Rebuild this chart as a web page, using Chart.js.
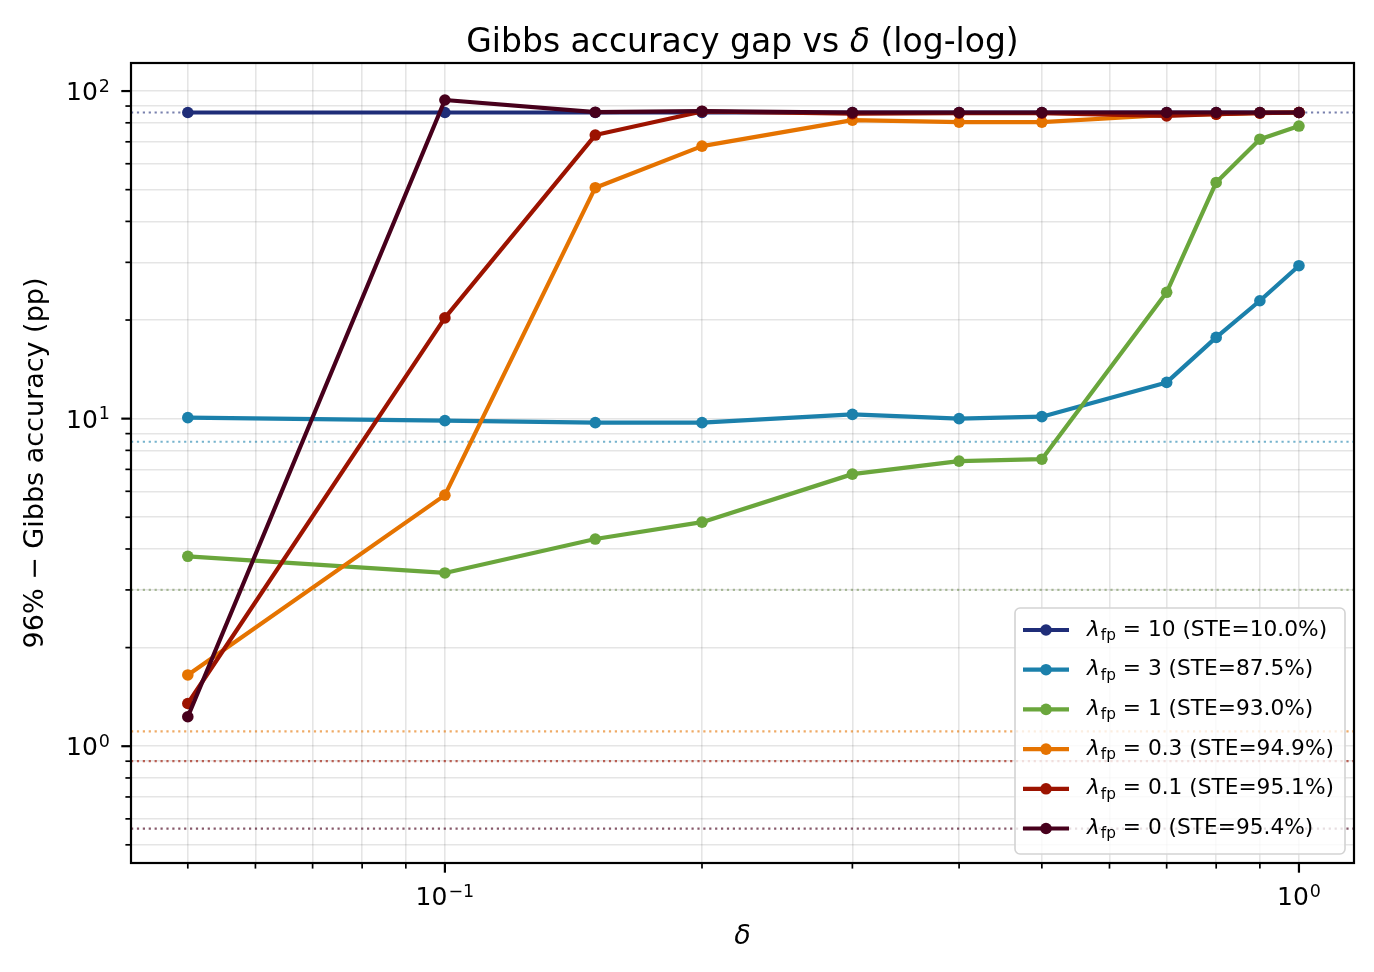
<!DOCTYPE html>
<html>
<head>
<meta charset="utf-8">
<script src="https://cdn.jsdelivr.net/npm/chart.js@4.4.1/dist/chart.umd.min.js"></script>
<style>
  html, body { margin: 0; padding: 0; background: #fff; }
  #wrap { width: 1374px; height: 972px; position: relative; }
</style>
</head>
<body>
<div id="wrap"><canvas id="chart"></canvas></div>
<script>
// delta values on the x axis
const deltas = [0.05, 0.1, 0.15, 0.2, 0.3, 0.4, 0.5, 0.7, 0.8, 0.9, 1.0];

// 96% - Gibbs accuracy (pp), one array per lambda_fp
const gapLam10 = [86.0, 86.0, 86.0, 86.0, 86.0, 86.0, 86.0, 86.0, 86.0, 86.0, 86.0];
const gapLam3 = [10.07, 9.86, 9.72, 9.72, 10.3, 10.0, 10.14, 12.9, 17.7, 22.9, 29.3];
const gapLam1 = [3.80, 3.38, 4.29, 4.83, 6.77, 7.42, 7.52, 24.3, 52.6, 71.3, 78.2];
const gapLam03 = [1.65, 5.84, 50.7, 67.9, 81.5, 80.4, 80.4, 84.5, 85.0, 85.8, 86.0];
const gapLam01 = [1.35, 20.3, 73.4, 86.6, 85.3, 85.6, 85.6, 84.0, 85.0, 85.6, 86.0];
const gapLam0 = [1.23, 93.9, 86.2, 86.8, 86.0, 86.0, 86.0, 86.0, 86.0, 86.0, 86.0];

const lambdaLabels = ['10', '3', '1', '0.3', '0.1', '0'];
const steLabels = ['10.0%', '87.5%', '93.0%', '94.9%', '95.1%', '95.4%'];
const steGaps = [86, 8.5, 3.0, 1.11, 0.90, 0.56];   // dotted reference lines
const colors = ['#1f2d78', '#1b80ab', '#6aa63c', '#e57300', '#9c1300', '#47001c'];
const refColors = ['rgba(31,45,120,0.6)', 'rgba(27,128,171,0.6)', 'rgba(110,140,80,0.55)',
  'rgba(229,115,0,0.6)', 'rgba(156,19,0,0.65)', 'rgba(71,0,28,0.65)'];
const seriesData = [gapLam10, gapLam3, gapLam1, gapLam03, gapLam01, gapLam0];

// ticks (labels are 10 with these exponents)
const xTicks = [0.05, 0.06, 0.07, 0.08, 0.09, 0.1, 0.2, 0.3, 0.4, 0.5, 0.6, 0.7, 0.8, 0.9, 1];
const xMajorTicks = [0.1, 1];
const xTickExps = ['\u22121', '0'];
const yTicks = [0.5, 0.6, 0.7, 0.8, 0.9, 1, 2, 3, 4, 5, 6, 7, 8, 9,
  10, 20, 30, 40, 50, 60, 70, 80, 90, 100];
const yMajorTicks = [1, 10, 100];
const yTickExps = ['0', '1', '2'];

const FONT = 'DejaVu Sans';
Chart.defaults.font.family = FONT;
Chart.defaults.color = '#000';

function majorIndex(value, majors) {
  return majors.findIndex(t => Math.abs(t - value) < 1e-9);
}

// draws "10" with a raised exponent; anchor 'center' or 'right'
function drawPow(ctx, exp, x, baseline, anchor) {
  ctx.font = `25px "${FONT}"`;
  const wb = ctx.measureText('10').width;
  ctx.font = `17.5px "${FONT}"`;
  const we = ctx.measureText(exp).width;
  const total = wb + 1 + we;
  const x0 = anchor === 'center' ? x - total / 2 : x - total;
  ctx.font = `25px "${FONT}"`;
  ctx.fillText('10', x0, baseline);
  ctx.font = `17.5px "${FONT}"`;
  ctx.fillText(exp, x0 + wb + 1, baseline - 8.5);
}

const decor = {
  id: 'decor',
  beforeDatasetsDraw(chart) {
    const { ctx, chartArea: a, scales: { y } } = chart;
    ctx.save();
    ctx.beginPath();
    ctx.rect(a.left, a.top, a.right - a.left, a.bottom - a.top);
    ctx.clip();
    ctx.lineWidth = 2.2;
    ctx.setLineDash([2.2, 3.7]);
    steGaps.forEach((g, i) => {
      const py = y.getPixelForValue(g);
      ctx.strokeStyle = refColors[i];
      ctx.beginPath();
      ctx.moveTo(a.left, py);
      ctx.lineTo(a.right, py);
      ctx.stroke();
    });
    ctx.restore();
  },
  afterDatasetsDraw(chart) {
    const { ctx, chartArea: a, scales: { x, y } } = chart;
    ctx.save();
    // frame
    ctx.strokeStyle = '#000';
    ctx.lineWidth = 2.2;
    ctx.strokeRect(a.left, a.top, a.right - a.left, a.bottom - a.top);
    // tick marks + labels
    ctx.fillStyle = '#000';
    ctx.textBaseline = 'alphabetic';
    ctx.textAlign = 'left';
    x.ticks.forEach(t => {
      const px = x.getPixelForValue(t.value);
      const mi = majorIndex(t.value, xMajorTicks);
      ctx.lineWidth = mi >= 0 ? 2.2 : 1.7;
      ctx.beginPath();
      ctx.moveTo(px, a.bottom);
      ctx.lineTo(px, a.bottom + (mi >= 0 ? 9.7 : 5.6));
      ctx.stroke();
      if (mi >= 0) drawPow(ctx, xTickExps[mi], px, a.bottom + 42, 'center');
    });
    y.ticks.forEach(t => {
      const py = y.getPixelForValue(t.value);
      const mi = majorIndex(t.value, yMajorTicks);
      ctx.lineWidth = mi >= 0 ? 2.2 : 1.7;
      ctx.beginPath();
      ctx.moveTo(a.left, py);
      ctx.lineTo(a.left - (mi >= 0 ? 9.7 : 5.6), py);
      ctx.stroke();
      if (mi >= 0) drawPow(ctx, yTickExps[mi], a.left - 21, py + 9, 'right');
    });

    // title
    const parts = [
      ['Gibbs accuracy gap vs ', `33px "${FONT}"`],
      ['\u03B4', `italic 33px "${FONT}"`],
      [' (log-log)', `33px "${FONT}"`]
    ];
    let total = 0;
    parts.forEach(p => { ctx.font = p[1]; total += ctx.measureText(p[0]).width; });
    let tx = (a.left + a.right) / 2 - total / 2;
    parts.forEach(p => {
      ctx.font = p[1];
      ctx.fillText(p[0], tx, 52);
      tx += ctx.measureText(p[0]).width;
    });

    // legend
    const lx = 1015, ly = 608, lw = 330, lh = 246;
    ctx.beginPath();
    ctx.roundRect(lx, ly, lw, lh, 5);
    ctx.fillStyle = 'rgba(255,255,255,0.8)';
    ctx.fill();
    ctx.strokeStyle = '#d3d3d3';
    ctx.lineWidth = 1.6;
    ctx.stroke();
    ctx.textBaseline = 'middle';
    lambdaLabels.forEach((lam, i) => {
      const cy = 630 + i * 39.7;
      ctx.strokeStyle = colors[i];
      ctx.lineWidth = 4.2;
      ctx.beginPath();
      ctx.moveTo(1023, cy);
      ctx.lineTo(1069, cy);
      ctx.stroke();
      ctx.fillStyle = colors[i];
      ctx.beginPath();
      ctx.arc(1046, cy, 5.8, 0, Math.PI * 2);
      ctx.fill();
      ctx.fillStyle = '#000';
      let px = 1087;
      ctx.font = `italic 21.7px "${FONT}"`;
      ctx.fillText('\u03BB', px, cy);
      px += ctx.measureText('\u03BB').width + 1;
      ctx.font = `15.3px "${FONT}"`;
      ctx.fillText('fp', px, cy + 6);
      px += ctx.measureText('fp').width;
      ctx.font = `21.7px "${FONT}"`;
      ctx.fillText(' = ' + lam + ' (STE=' + steLabels[i] + ')', px, cy);
    });
    ctx.restore();
  }
};

new Chart(document.getElementById('chart'), {
  type: 'line',
  data: {
    datasets: seriesData.map((vals, i) => ({
      label: '\u03BBfp = ' + lambdaLabels[i] + ' (STE=' + steLabels[i] + ')',
      data: deltas.map((d, j) => ({ x: d, y: vals[j] })),
      borderColor: colors[i],
      backgroundColor: colors[i],
      pointBackgroundColor: colors[i],
      pointBorderWidth: 0,
      pointRadius: 5.8,
      borderWidth: 4.2,
      borderJoinStyle: 'round',
      tension: 0,
      fill: false,
      order: 6 - i
    }))
  },
  options: {
    responsive: true,
    maintainAspectRatio: false,
    devicePixelRatio: 1,
    animation: false,
    layout: { padding: { top: 63, right: 20, bottom: 0, left: 0 } },
    plugins: {
      legend: { display: false },
      tooltip: { enabled: false },
      title: { display: false }
    },
    scales: {
      x: {
        type: 'logarithmic',
        min: 0.0429,
        max: 1.16,
        afterBuildTicks: s => { s.ticks = xTicks.map(v => ({ value: v })); },
        afterFit: s => { s.height = 109; },
        grid: { color: 'rgba(0,0,0,0.1)', lineWidth: 1.6, drawTicks: false },
        border: { display: false },
        ticks: { autoSkip: false, maxRotation: 0, font: { size: 25 }, callback: () => '' },
        title: {
          display: true,
          text: '\u03B4',
          font: { size: 27, style: 'italic' },
          padding: { top: 0, bottom: 19 }
        }
      },
      y: {
        type: 'logarithmic',
        min: 0.44,
        max: 121.8,
        afterBuildTicks: s => { s.ticks = yTicks.map(v => ({ value: v })); },
        afterFit: s => { s.width = 131; },
        grid: { color: 'rgba(0,0,0,0.1)', lineWidth: 1.6, drawTicks: false },
        border: { display: false },
        ticks: { autoSkip: false, font: { size: 25 }, callback: () => '' },
        title: {
          display: true,
          text: '96% \u2212 Gibbs accuracy (pp)',
          font: { size: 27 },
          padding: { top: 20, bottom: 0 }
        }
      }
    }
  },
  plugins: [decor]
});
</script>
</body>
</html>
